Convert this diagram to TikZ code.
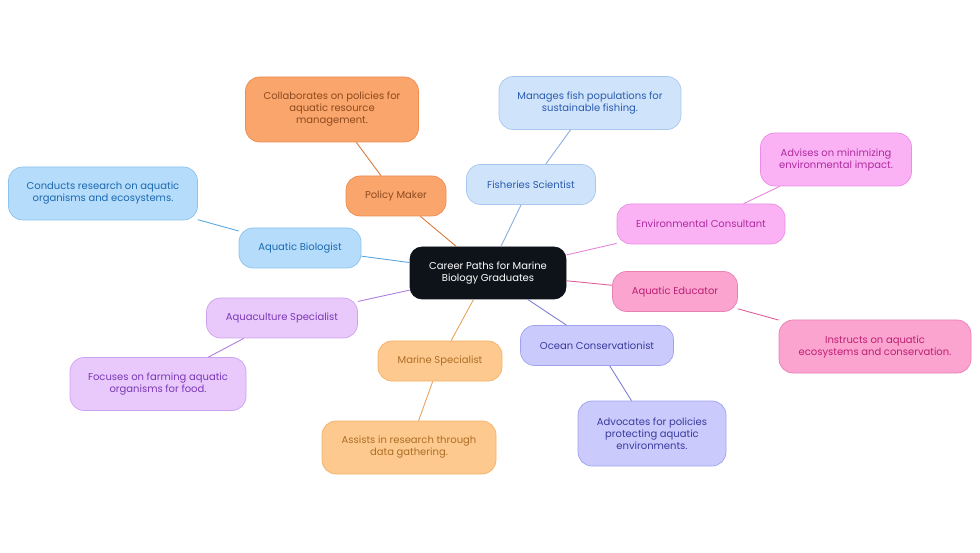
\documentclass[tikz,border=0pt]{standalone}
\usepackage{fontspec}
\setmainfont{Poppins}
\usepackage{tikz}
\usetikzlibrary{positioning}
\definecolor{rootfill}{HTML}{0E131A}
\definecolor{biofill}{HTML}{B5DCFA}\definecolor{bioline}{HTML}{8DC3EC}\definecolor{biotext}{HTML}{1D69B0}\definecolor{biolink}{HTML}{5BA8E0}
\definecolor{polfill}{HTML}{F9A56C}\definecolor{polline}{HTML}{EE8C52}\definecolor{poltext}{HTML}{8E4A1E}\definecolor{pollink}{HTML}{D97A3E}
\definecolor{fishfill}{HTML}{CFE3FB}\definecolor{fishline}{HTML}{A8C7EE}\definecolor{fishtext}{HTML}{2A5CAE}\definecolor{fishlink}{HTML}{88AEDF}
\definecolor{envfill}{HTML}{FBB2F5}\definecolor{envline}{HTML}{EA8FE4}\definecolor{envtext}{HTML}{AE2A9E}\definecolor{envlink}{HTML}{E386DA}
\definecolor{edufill}{HTML}{FBA4CF}\definecolor{eduline}{HTML}{E880B4}\definecolor{edutext}{HTML}{BE1F74}\definecolor{edulink}{HTML}{DB609C}
\definecolor{ocnfill}{HTML}{CACBFC}\definecolor{ocnline}{HTML}{A0A2EE}\definecolor{ocntext}{HTML}{3A3A9E}\definecolor{ocnlink}{HTML}{7F80D6}
\definecolor{marfill}{HTML}{FDC98E}\definecolor{marline}{HTML}{F4B26A}\definecolor{martext}{HTML}{AE6E26}\definecolor{marlink}{HTML}{E5A35E}
\definecolor{aqfill}{HTML}{E9C9FB}\definecolor{aqline}{HTML}{CDA2EE}\definecolor{aqtext}{HTML}{7A38B6}\definecolor{aqlink}{HTML}{B07EE2}
\tikzset{
  card/.style ={rounded corners=14pt,line width=0.7pt,align=center,inner sep=2pt,
                font=\fontsize{10}{12}\selectfont,minimum height=40pt},
  root/.style ={card,rounded corners=12pt,fill=rootfill,draw=rootfill,text=white,minimum height=52pt},
  bio/.style  ={card,fill=biofill,draw=bioline,text=biotext},
  pol/.style  ={card,fill=polfill,draw=polline,text=poltext},
  fish/.style ={card,fill=fishfill,draw=fishline,text=fishtext},
  env/.style  ={card,fill=envfill,draw=envline,text=envtext},
  edu/.style  ={card,fill=edufill,draw=eduline,text=edutext},
  ocn/.style  ={card,fill=ocnfill,draw=ocnline,text=ocntext},
  mar/.style  ={card,fill=marfill,draw=marline,text=martext},
  aq/.style   ={card,fill=aqfill,draw=aqline,text=aqtext},
  two/.style  ={minimum height=53pt},
  three/.style={minimum height=65pt},
  link/.style ={line width=0.9pt}
}
\begin{document}
\begin{tikzpicture}[x=1pt,y=-1pt]
  \useasboundingbox (0,0) rectangle (980,553);
  \node[root,minimum width=156pt] (career) at (488,273) {Career Paths for Marine\\Biology Graduates};
  % aquatic biologist
  \node[bio,minimum width=122pt] (biologist) at (300,248) {Aquatic Biologist};
  \node[bio,two,minimum width=189pt] (biodesc) at (103,193.5) {Conducts research on aquatic\\organisms and ecosystems.};
  % policy maker
  \node[pol,minimum width=100pt] (policy) at (396,196) {Policy Maker};
  \node[pol,three,minimum width=173pt] (poldesc) at (332,109.5) {Collaborates on policies for\\aquatic resource\\management.};
  % fisheries scientist
  \node[fish,minimum width=129pt] (fisheries) at (531,184.5) {Fisheries Scientist};
  \node[fish,two,minimum width=182pt] (fishdesc) at (590,103) {Manages fish populations for\\sustainable fishing.};
  % environmental consultant
  \node[env,minimum width=168pt] (consultant) at (701,224) {Environmental Consultant};
  \node[env,two,minimum width=151pt] (envdesc) at (836,159.5) {Advises on minimizing\\environmental impact.};
  % aquatic educator
  \node[edu,minimum width=125pt] (educator) at (675,291.5) {Aquatic Educator};
  \node[edu,two,minimum width=192pt] (edudesc) at (875,346.5) {Instructs on aquatic\\ecosystems and conservation.};
  % ocean conservationist
  \node[ocn,minimum width=153pt] (conservationist) at (597,345.5) {Ocean Conservationist};
  \node[ocn,three,minimum width=148pt] (ocndesc) at (652,433.5) {Advocates for policies\\protecting aquatic\\environments.};
  % marine specialist
  \node[mar,minimum width=124pt] (marine) at (440,361) {Marine Specialist};
  \node[mar,two,minimum width=174pt] (mardesc) at (409,447.5) {Assists in research through\\data gathering.};
  % aquaculture specialist
  \node[aq,minimum width=151pt] (aquaculture) at (282,318) {Aquaculture Specialist};
  \node[aq,two,minimum width=176pt] (aqdesc) at (158,384) {Focuses on farming aquatic\\organisms for food.};
  % connectors
  \begin{scope}[link]
    \draw[biolink] (career) -- (biologist) -- (biodesc);
    \draw[pollink] (career) -- (policy) -- (poldesc);
    \draw[fishlink] (career) -- (fisheries) -- (fishdesc);
    \draw[envlink] (career) -- (consultant) -- (envdesc);
    \draw[edulink] (career) -- (educator) -- (edudesc);
    \draw[ocnlink] (career) -- (conservationist) -- (ocndesc);
    \draw[marlink] (career) -- (marine) -- (mardesc);
    \draw[aqlink] (career) -- (aquaculture) -- (aqdesc);
  \end{scope}
\end{tikzpicture}
\end{document}
